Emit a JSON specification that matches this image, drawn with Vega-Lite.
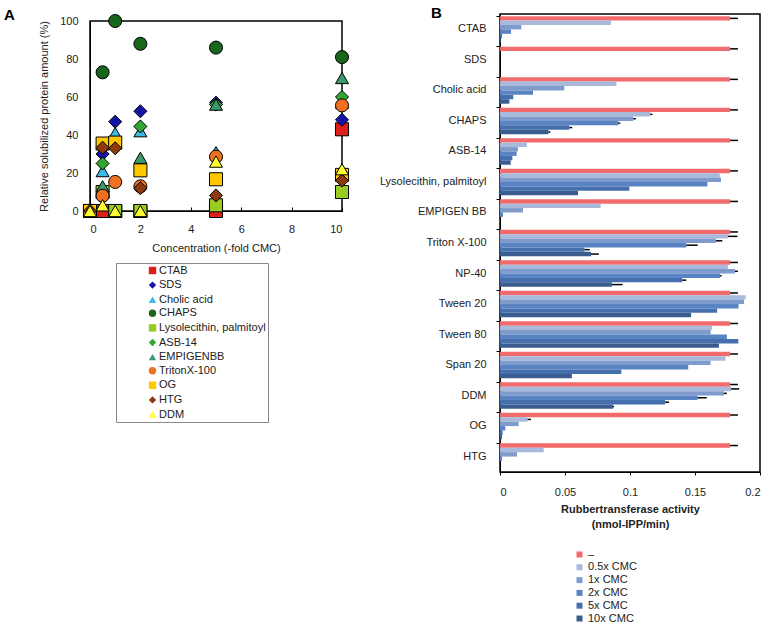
{
  "$schema": "https://vega.github.io/schema/vega-lite/v6.json",
  "padding": {"left": 3, "top": 5, "right": 5, "bottom": 0},
  "background": "white",
  "title": {"text": "A", "frame": "bounds", "anchor": "start", "dx": -34, "offset": -18},
  "config": {
    "font": "Liberation Sans",
    "view": {"stroke": "black", "strokeWidth": 1.5},
    "axis": {"labelFontSize": 11, "titleFontSize": 11, "labelColor": "#222", "titleColor": "#222", "domainColor": "black", "tickColor": "black", "grid": false, "titleFontWeight": "normal", "labelFont": "Liberation Sans", "titleFont": "Liberation Sans"},
    "legend": {"labelFontSize": 11, "labelColor": "#222", "labelFont": "Liberation Sans", "labelLimit": 0},
    "title": {"fontSize": 15, "fontWeight": "bold", "font": "Liberation Sans", "color": "black"}
  },
  "datasets": {
    "solub": [
      {"det": "CTAB", "conc": 0, "pct": 0}, {"det": "CTAB", "conc": 0.5, "pct": 0}, {"det": "CTAB", "conc": 1, "pct": 0}, {"det": "CTAB", "conc": 2, "pct": 0}, {"det": "CTAB", "conc": 5, "pct": 0}, {"det": "CTAB", "conc": 10, "pct": 43},
      {"det": "SDS", "conc": 0, "pct": 0}, {"det": "SDS", "conc": 0.5, "pct": 30}, {"det": "SDS", "conc": 1, "pct": 47}, {"det": "SDS", "conc": 2, "pct": 52.5}, {"det": "SDS", "conc": 5, "pct": 57}, {"det": "SDS", "conc": 10, "pct": 48},
      {"det": "Cholic acid", "conc": 0, "pct": 0}, {"det": "Cholic acid", "conc": 0.5, "pct": 21}, {"det": "Cholic acid", "conc": 1, "pct": 41}, {"det": "Cholic acid", "conc": 2, "pct": 42}, {"det": "Cholic acid", "conc": 5, "pct": 31}, {"det": "Cholic acid", "conc": 10, "pct": 57},
      {"det": "CHAPS", "conc": 0, "pct": 0}, {"det": "CHAPS", "conc": 0.5, "pct": 73}, {"det": "CHAPS", "conc": 1, "pct": 100}, {"det": "CHAPS", "conc": 2, "pct": 88}, {"det": "CHAPS", "conc": 5, "pct": 86}, {"det": "CHAPS", "conc": 10, "pct": 81},
      {"det": "Lysolecithin, palmitoyl", "conc": 0, "pct": 0}, {"det": "Lysolecithin, palmitoyl", "conc": 0.5, "pct": 10}, {"det": "Lysolecithin, palmitoyl", "conc": 1, "pct": 0}, {"det": "Lysolecithin, palmitoyl", "conc": 2, "pct": 0}, {"det": "Lysolecithin, palmitoyl", "conc": 5, "pct": 3}, {"det": "Lysolecithin, palmitoyl", "conc": 10, "pct": 10},
      {"det": "ASB-14", "conc": 0, "pct": 0}, {"det": "ASB-14", "conc": 0.5, "pct": 25}, {"det": "ASB-14", "conc": 1, "pct": 34}, {"det": "ASB-14", "conc": 2, "pct": 44.5}, {"det": "ASB-14", "conc": 5, "pct": 56}, {"det": "ASB-14", "conc": 10, "pct": 60},
      {"det": "EMPIGENBB", "conc": 0, "pct": 0}, {"det": "EMPIGENBB", "conc": 0.5, "pct": 13}, {"det": "EMPIGENBB", "conc": 1, "pct": 36}, {"det": "EMPIGENBB", "conc": 2, "pct": 28}, {"det": "EMPIGENBB", "conc": 5, "pct": 56}, {"det": "EMPIGENBB", "conc": 10, "pct": 70},
      {"det": "TritonX-100", "conc": 0, "pct": 0}, {"det": "TritonX-100", "conc": 0.5, "pct": 8}, {"det": "TritonX-100", "conc": 1, "pct": 15.3}, {"det": "TritonX-100", "conc": 2, "pct": 13}, {"det": "TritonX-100", "conc": 5, "pct": 28.6}, {"det": "TritonX-100", "conc": 10, "pct": 55.6},
      {"det": "OG", "conc": 0, "pct": 0}, {"det": "OG", "conc": 0.5, "pct": 35.5}, {"det": "OG", "conc": 1, "pct": 36}, {"det": "OG", "conc": 2, "pct": 21.4}, {"det": "OG", "conc": 5, "pct": 16.7}, {"det": "OG", "conc": 10, "pct": 19},
      {"det": "HTG", "conc": 0, "pct": 0}, {"det": "HTG", "conc": 0.5, "pct": 33.3}, {"det": "HTG", "conc": 1, "pct": 33}, {"det": "HTG", "conc": 2, "pct": 12}, {"det": "HTG", "conc": 5, "pct": 8.2}, {"det": "HTG", "conc": 10, "pct": 16},
      {"det": "DDM", "conc": 0, "pct": 0}, {"det": "DDM", "conc": 0.5, "pct": 3}, {"det": "DDM", "conc": 1, "pct": 0}, {"det": "DDM", "conc": 2, "pct": 0}, {"det": "DDM", "conc": 5, "pct": 26}, {"det": "DDM", "conc": 10, "pct": 22}
    ],
    "activity": [
      {"det": "CTAB", "s": "–", "v": 0.177, "hi": 0.183}, {"det": "CTAB", "s": "0.5x CMC", "v": 0.0854}, {"det": "CTAB", "s": "1x CMC", "v": 0.0164}, {"det": "CTAB", "s": "2x CMC", "v": 0.0085}, {"det": "CTAB", "s": "5x CMC", "v": 0.0015}, {"det": "CTAB", "s": "10x CMC", "v": 0.0005},
      {"det": "SDS", "s": "–", "v": 0.177, "hi": 0.183}, {"det": "SDS", "s": "0.5x CMC", "v": 0}, {"det": "SDS", "s": "1x CMC", "v": 0}, {"det": "SDS", "s": "2x CMC", "v": 0}, {"det": "SDS", "s": "5x CMC", "v": 0}, {"det": "SDS", "s": "10x CMC", "v": 0},
      {"det": "Cholic acid", "s": "–", "v": 0.177, "hi": 0.183}, {"det": "Cholic acid", "s": "0.5x CMC", "v": 0.0895}, {"det": "Cholic acid", "s": "1x CMC", "v": 0.0495}, {"det": "Cholic acid", "s": "2x CMC", "v": 0.0254}, {"det": "Cholic acid", "s": "5x CMC", "v": 0.0102}, {"det": "Cholic acid", "s": "10x CMC", "v": 0.0072},
      {"det": "CHAPS", "s": "–", "v": 0.177, "hi": 0.183}, {"det": "CHAPS", "s": "0.5x CMC", "v": 0.1156, "hi": 0.1172}, {"det": "CHAPS", "s": "1x CMC", "v": 0.1025, "hi": 0.1045}, {"det": "CHAPS", "s": "2x CMC", "v": 0.091, "hi": 0.0925}, {"det": "CHAPS", "s": "5x CMC", "v": 0.0533, "hi": 0.0555}, {"det": "CHAPS", "s": "10x CMC", "v": 0.0372, "hi": 0.0387},
      {"det": "ASB-14", "s": "–", "v": 0.177, "hi": 0.183}, {"det": "ASB-14", "s": "0.5x CMC", "v": 0.0207}, {"det": "ASB-14", "s": "1x CMC", "v": 0.0138}, {"det": "ASB-14", "s": "2x CMC", "v": 0.0128}, {"det": "ASB-14", "s": "5x CMC", "v": 0.0095}, {"det": "ASB-14", "s": "10x CMC", "v": 0.0082},
      {"det": "Lysolecithin, palmitoyl", "s": "–", "v": 0.177, "hi": 0.183}, {"det": "Lysolecithin, palmitoyl", "s": "0.5x CMC", "v": 0.169}, {"det": "Lysolecithin, palmitoyl", "s": "1x CMC", "v": 0.17}, {"det": "Lysolecithin, palmitoyl", "s": "2x CMC", "v": 0.1595}, {"det": "Lysolecithin, palmitoyl", "s": "5x CMC", "v": 0.0995}, {"det": "Lysolecithin, palmitoyl", "s": "10x CMC", "v": 0.06},
      {"det": "EMPIGEN BB", "s": "–", "v": 0.177, "hi": 0.183}, {"det": "EMPIGEN BB", "s": "0.5x CMC", "v": 0.0774}, {"det": "EMPIGEN BB", "s": "1x CMC", "v": 0.0177}, {"det": "EMPIGEN BB", "s": "2x CMC", "v": 0.0023}, {"det": "EMPIGEN BB", "s": "5x CMC", "v": 0}, {"det": "EMPIGEN BB", "s": "10x CMC", "v": 0},
      {"det": "Triton X-100", "s": "–", "v": 0.177, "hi": 0.183}, {"det": "Triton X-100", "s": "0.5x CMC", "v": 0.1753, "hi": 0.1827}, {"det": "Triton X-100", "s": "1x CMC", "v": 0.166, "hi": 0.171}, {"det": "Triton X-100", "s": "2x CMC", "v": 0.1433, "hi": 0.152}, {"det": "Triton X-100", "s": "5x CMC", "v": 0.065, "hi": 0.069}, {"det": "Triton X-100", "s": "10x CMC", "v": 0.07, "hi": 0.076},
      {"det": "NP-40", "s": "–", "v": 0.177, "hi": 0.183}, {"det": "NP-40", "s": "0.5x CMC", "v": 0.1753}, {"det": "NP-40", "s": "1x CMC", "v": 0.1807, "hi": 0.183}, {"det": "NP-40", "s": "2x CMC", "v": 0.1694, "hi": 0.1705}, {"det": "NP-40", "s": "5x CMC", "v": 0.1402, "hi": 0.1433}, {"det": "NP-40", "s": "10x CMC", "v": 0.0861, "hi": 0.0943},
      {"det": "Tween 20", "s": "–", "v": 0.177, "hi": 0.183}, {"det": "Tween 20", "s": "0.5x CMC", "v": 0.189}, {"det": "Tween 20", "s": "1x CMC", "v": 0.1877}, {"det": "Tween 20", "s": "2x CMC", "v": 0.1835}, {"det": "Tween 20", "s": "5x CMC", "v": 0.167}, {"det": "Tween 20", "s": "10x CMC", "v": 0.147},
      {"det": "Tween 80", "s": "–", "v": 0.177, "hi": 0.183}, {"det": "Tween 80", "s": "0.5x CMC", "v": 0.163}, {"det": "Tween 80", "s": "1x CMC", "v": 0.162}, {"det": "Tween 80", "s": "2x CMC", "v": 0.1745}, {"det": "Tween 80", "s": "5x CMC", "v": 0.1833}, {"det": "Tween 80", "s": "10x CMC", "v": 0.1684},
      {"det": "Span 20", "s": "–", "v": 0.177, "hi": 0.183}, {"det": "Span 20", "s": "0.5x CMC", "v": 0.1735}, {"det": "Span 20", "s": "1x CMC", "v": 0.162}, {"det": "Span 20", "s": "2x CMC", "v": 0.1448}, {"det": "Span 20", "s": "5x CMC", "v": 0.0933}, {"det": "Span 20", "s": "10x CMC", "v": 0.0553},
      {"det": "DDM", "s": "–", "v": 0.177, "hi": 0.183}, {"det": "DDM", "s": "0.5x CMC", "v": 0.1777, "hi": 0.184}, {"det": "DDM", "s": "1x CMC", "v": 0.1723, "hi": 0.1745}, {"det": "DDM", "s": "2x CMC", "v": 0.152, "hi": 0.159}, {"det": "DDM", "s": "5x CMC", "v": 0.127, "hi": 0.13}, {"det": "DDM", "s": "10x CMC", "v": 0.0869, "hi": 0.0877},
      {"det": "OG", "s": "–", "v": 0.177, "hi": 0.183}, {"det": "OG", "s": "0.5x CMC", "v": 0.0212, "hi": 0.0238}, {"det": "OG", "s": "1x CMC", "v": 0.0143}, {"det": "OG", "s": "2x CMC", "v": 0.0041}, {"det": "OG", "s": "5x CMC", "v": 0.002}, {"det": "OG", "s": "10x CMC", "v": 0.0015},
      {"det": "HTG", "s": "–", "v": 0.177, "hi": 0.183}, {"det": "HTG", "s": "0.5x CMC", "v": 0.0336}, {"det": "HTG", "s": "1x CMC", "v": 0.0131}, {"det": "HTG", "s": "2x CMC", "v": 0.0015}, {"det": "HTG", "s": "5x CMC", "v": 0}, {"det": "HTG", "s": "10x CMC", "v": 0}
    ]
  },
  "spacing": 26,
  "resolve": {"scale": {"x": "independent", "y": "independent"}, "legend": {"fill": "independent", "shape": "independent", "color": "independent"}},
  "hconcat": [
    {
      "spacing": -4,
      "vconcat": [
        {
          "width": 252,
          "height": 1,
          "view": {"stroke": null},
          "data": {"values": []},
          "mark": "point"
        },
        {
          "width": 252,
          "height": 190,
          "data": {"name": "solub"},
          "mark": {"type": "point", "filled": true, "stroke": "black", "strokeWidth": 1, "size": 170, "opacity": 1},
          "encoding": {
            "x": {"field": "conc", "type": "quantitative", "scale": {"domain": [0, 10], "nice": false}, "axis": {"values": [0, 2, 4, 6, 8, 10], "title": "Concentration (-fold CMC)", "tickSize": -4, "labelPadding": 16, "titlePadding": 8}},
            "y": {"field": "pct", "type": "quantitative", "scale": {"domain": [0, 100], "nice": false}, "axis": {"values": [0, 20, 40, 60, 80, 100], "ticks": false, "labelPadding": 12, "title": "Relative solubilized protein amount (%)", "titlePadding": 10}},
            "fill": {
              "field": "det", "type": "nominal",
              "scale": {"domain": ["CTAB", "SDS", "Cholic acid", "CHAPS", "Lysolecithin, palmitoyl", "ASB-14", "EMPIGENBB", "TritonX-100", "OG", "HTG", "DDM"],
                        "range": ["#DD1F1A", "#1414A8", "#3CB9E6", "#17661B", "#9ACB24", "#32A532", "#3A9A6E", "#F07022", "#FFC800", "#8C3A0E", "#FFFF30"]},
              "legend": {"title": " ", "titleOrient": "left", "titlePadding": 29, "orient": "none", "legendX": 26, "legendY": 249, "strokeColor": "#888", "padding": 2, "symbolSize": 55, "symbolStrokeColor": "black", "symbolStrokeWidth": 1, "rowPadding": 1.6, "labelOffset": 1, "labelExpr": "datum.label + '\u2003\u2003\u2003'"}
            },
            "shape": {
              "field": "det", "type": "nominal",
              "scale": {"domain": ["CTAB", "SDS", "Cholic acid", "CHAPS", "Lysolecithin, palmitoyl", "ASB-14", "EMPIGENBB", "TritonX-100", "OG", "HTG", "DDM"],
                        "range": ["square", "diamond", "triangle-up", "circle", "square", "diamond", "triangle-up", "circle", "square", "diamond", "triangle-up"]},
              "legend": {"title": " ", "titleOrient": "left", "titlePadding": 29, "orient": "none", "legendX": 26, "legendY": 249, "strokeColor": "#888", "padding": 2, "symbolSize": 55, "symbolStrokeColor": "black", "symbolStrokeWidth": 1, "rowPadding": 1.6, "labelOffset": 1, "labelExpr": "datum.label + '\u2003\u2003\u2003'"}
            }
          }
        }
      ]
    },
    {
      "title": {"text": "B", "frame": "group", "anchor": "start", "dx": -69, "offset": -7},
      "width": 260,
      "height": 458,
      "data": {"name": "activity"},
      "encoding": {
        "y": {"field": "det", "type": "nominal", "sort": ["CTAB", "SDS", "Cholic acid", "CHAPS", "ASB-14", "Lysolecithin, palmitoyl", "EMPIGEN BB", "Triton X-100", "NP-40", "Tween 20", "Tween 80", "Span 20", "DDM", "OG", "HTG"],
              "scale": {"paddingInner": 0.13, "paddingOuter": 0.07},
              "axis": {"title": null, "bandPosition": 0, "tickSize": 4, "labelPadding": 10}},
        "yOffset": {"field": "s", "type": "nominal", "sort": ["–", "0.5x CMC", "1x CMC", "2x CMC", "5x CMC", "10x CMC"], "scale": {"paddingInner": 0, "paddingOuter": 0}}
      },
      "layer": [
        {
          "mark": {"type": "bar"},
          "encoding": {
            "x": {"field": "v", "type": "quantitative", "scale": {"domain": [0, 0.2], "nice": false},
                  "axis": {"values": [0, 0.05, 0.1, 0.15, 0.2], "format": "~g", "tickSize": 3, "labelPadding": 11, "titlePadding": 6, "title": ["Rubbertransferase activity", "(nmol-IPP/min)"], "titleFontWeight": "bold", "titleLineHeight": 15}},
            "color": {"field": "s", "type": "nominal",
                      "scale": {"domain": ["–", "0.5x CMC", "1x CMC", "2x CMC", "5x CMC", "10x CMC"], "range": ["#F26B6C", "#A8B9DB", "#7F9BCC", "#5A83C3", "#4670AD", "#3A5C8F"]},
                      "legend": {"title": null, "orient": "none", "legendX": 74, "legendY": 535, "padding": 0, "symbolType": "square", "symbolSize": 36, "symbolStrokeWidth": 0, "rowPadding": 0.8, "labelOffset": 3}}
          }
        },
        {
          "transform": [{"filter": "isValid(datum.hi)"}],
          "mark": {"type": "rule", "color": "black", "strokeWidth": 1.5},
          "encoding": {
            "x": {"field": "v", "type": "quantitative"},
            "x2": {"field": "hi"}
          }
        }
      ]
    }
  ]
}
